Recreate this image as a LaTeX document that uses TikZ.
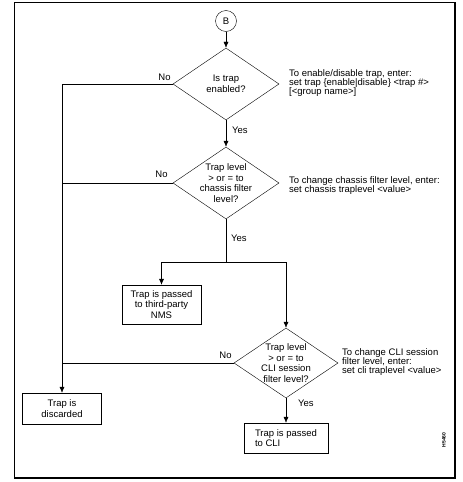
\documentclass[tikz,border=0pt]{standalone}
\usepackage{fontspec}
\setmainfont{Liberation Sans}
\usetikzlibrary{arrows.meta,shapes.geometric,positioning}

\begin{document}
\begin{tikzpicture}[x=1pt, y=-1pt, font=\fontsize{9.5}{10.5}\selectfont]
% STYLES
\tikzset{%
    decision/.style={%
diamond,
draw,
inner sep=0pt,
minimum width=106pt,
minimum height=72pt
                    },
    outcome/.style={%
rectangle,
draw,
inner sep=0pt,
minimum width=79pt,
minimum height=31pt,
align=center
                    },
    note/.style={anchor=west, inner sep=0pt, align=left, font=\fontsize{9.5}{9}\selectfont},
    answer/.style={inner sep=0pt},
    flow/.style={-{Latex[length=6pt,width=5pt]}}
             }
\useasboundingbox (0,0) rectangle (463,482);
% Draw frame
\draw (14,478) -- (14,2) -- (455,2);
\draw[line width=2pt] (455,2) -- (455,478) -- (14,478);

% Draw decisions
\node [circle, draw, minimum size=21pt, inner sep=0pt] (start) at (226,21) {B};
\node [decision] (enabled) at (226,84) {};
\node [align=center] at (enabled) {Is trap\\enabled?};
\node [decision] (chassis) at (226,183) {};
\node [align=center] at (chassis) {Trap level\\> or = to\\chassis filter\\level?};
\node [decision, minimum width=104pt, minimum height=70pt] (cli) at (286,363) {};
\node [align=center] at (cli) {Trap level\\> or = to\\CLI session\\filter level?};

% Draw outcomes
\node [outcome, minimum height=39pt] (nms) at (161.5,304.5) {Trap is passed\\to third-party\\NMS};
\node [outcome] (discard) at (62,408.5) {Trap is\\discarded};
\node [outcome, minimum width=84pt, minimum height=30pt, align=left] (tocli) at (286,438) {Trap is passed\\to CLI};

% Draw notes
\node [note] (enablenote) at (289,83) {To enable/disable trap, enter:\\set trap \{enable|disable\} <trap \#>\\{[}<group name>]};
\node [note] (chassisnote) at (289,186) {To change chassis filter level, enter:\\set chassis traplevel <value>};
\node [note] (clinote) at (342,362) {To change CLI session\\filter level, enter:\\set cli traplevel <value>};
\node [rotate=90, inner sep=0pt, font=\fontsize{5}{5}\selectfont\bfseries] (figid) at (444,440) {H5460};

% Draw the links
\draw[flow] (start) -- (enabled);
\draw[flow] (enabled) -- (chassis);
\coordinate (split) at (chassis |- 0,262);
\draw (chassis) -- (split);
\draw[flow] (split) -| (nms);
\draw[flow] (split) -| (cli);
\draw[flow] (enabled.west) -| (discard);
\draw (chassis.west) -- (chassis.west -| discard);
\draw (cli.west) -- (cli.west -| discard);
\draw[flow] (cli) -- (tocli);

% Yes / No labels
\node [answer, anchor=south east] at ([xshift=-2pt,yshift=3pt]enabled.west) {No};
\node [answer, anchor=south east] at ([xshift=-5pt,yshift=5pt]chassis.west) {No};
\node [answer, anchor=south east] at ([xshift=-2pt,yshift=4pt]cli.west) {No};
\node [answer, anchor=west] at ([xshift=6pt,yshift=-10pt]enabled.south) {Yes};
\node [answer, anchor=west] at ([xshift=5pt,yshift=-19pt]chassis.south) {Yes};
\node [answer, anchor=west] at ([xshift=12pt,yshift=-5pt]cli.south) {Yes};
\end{tikzpicture}
\end{document}
